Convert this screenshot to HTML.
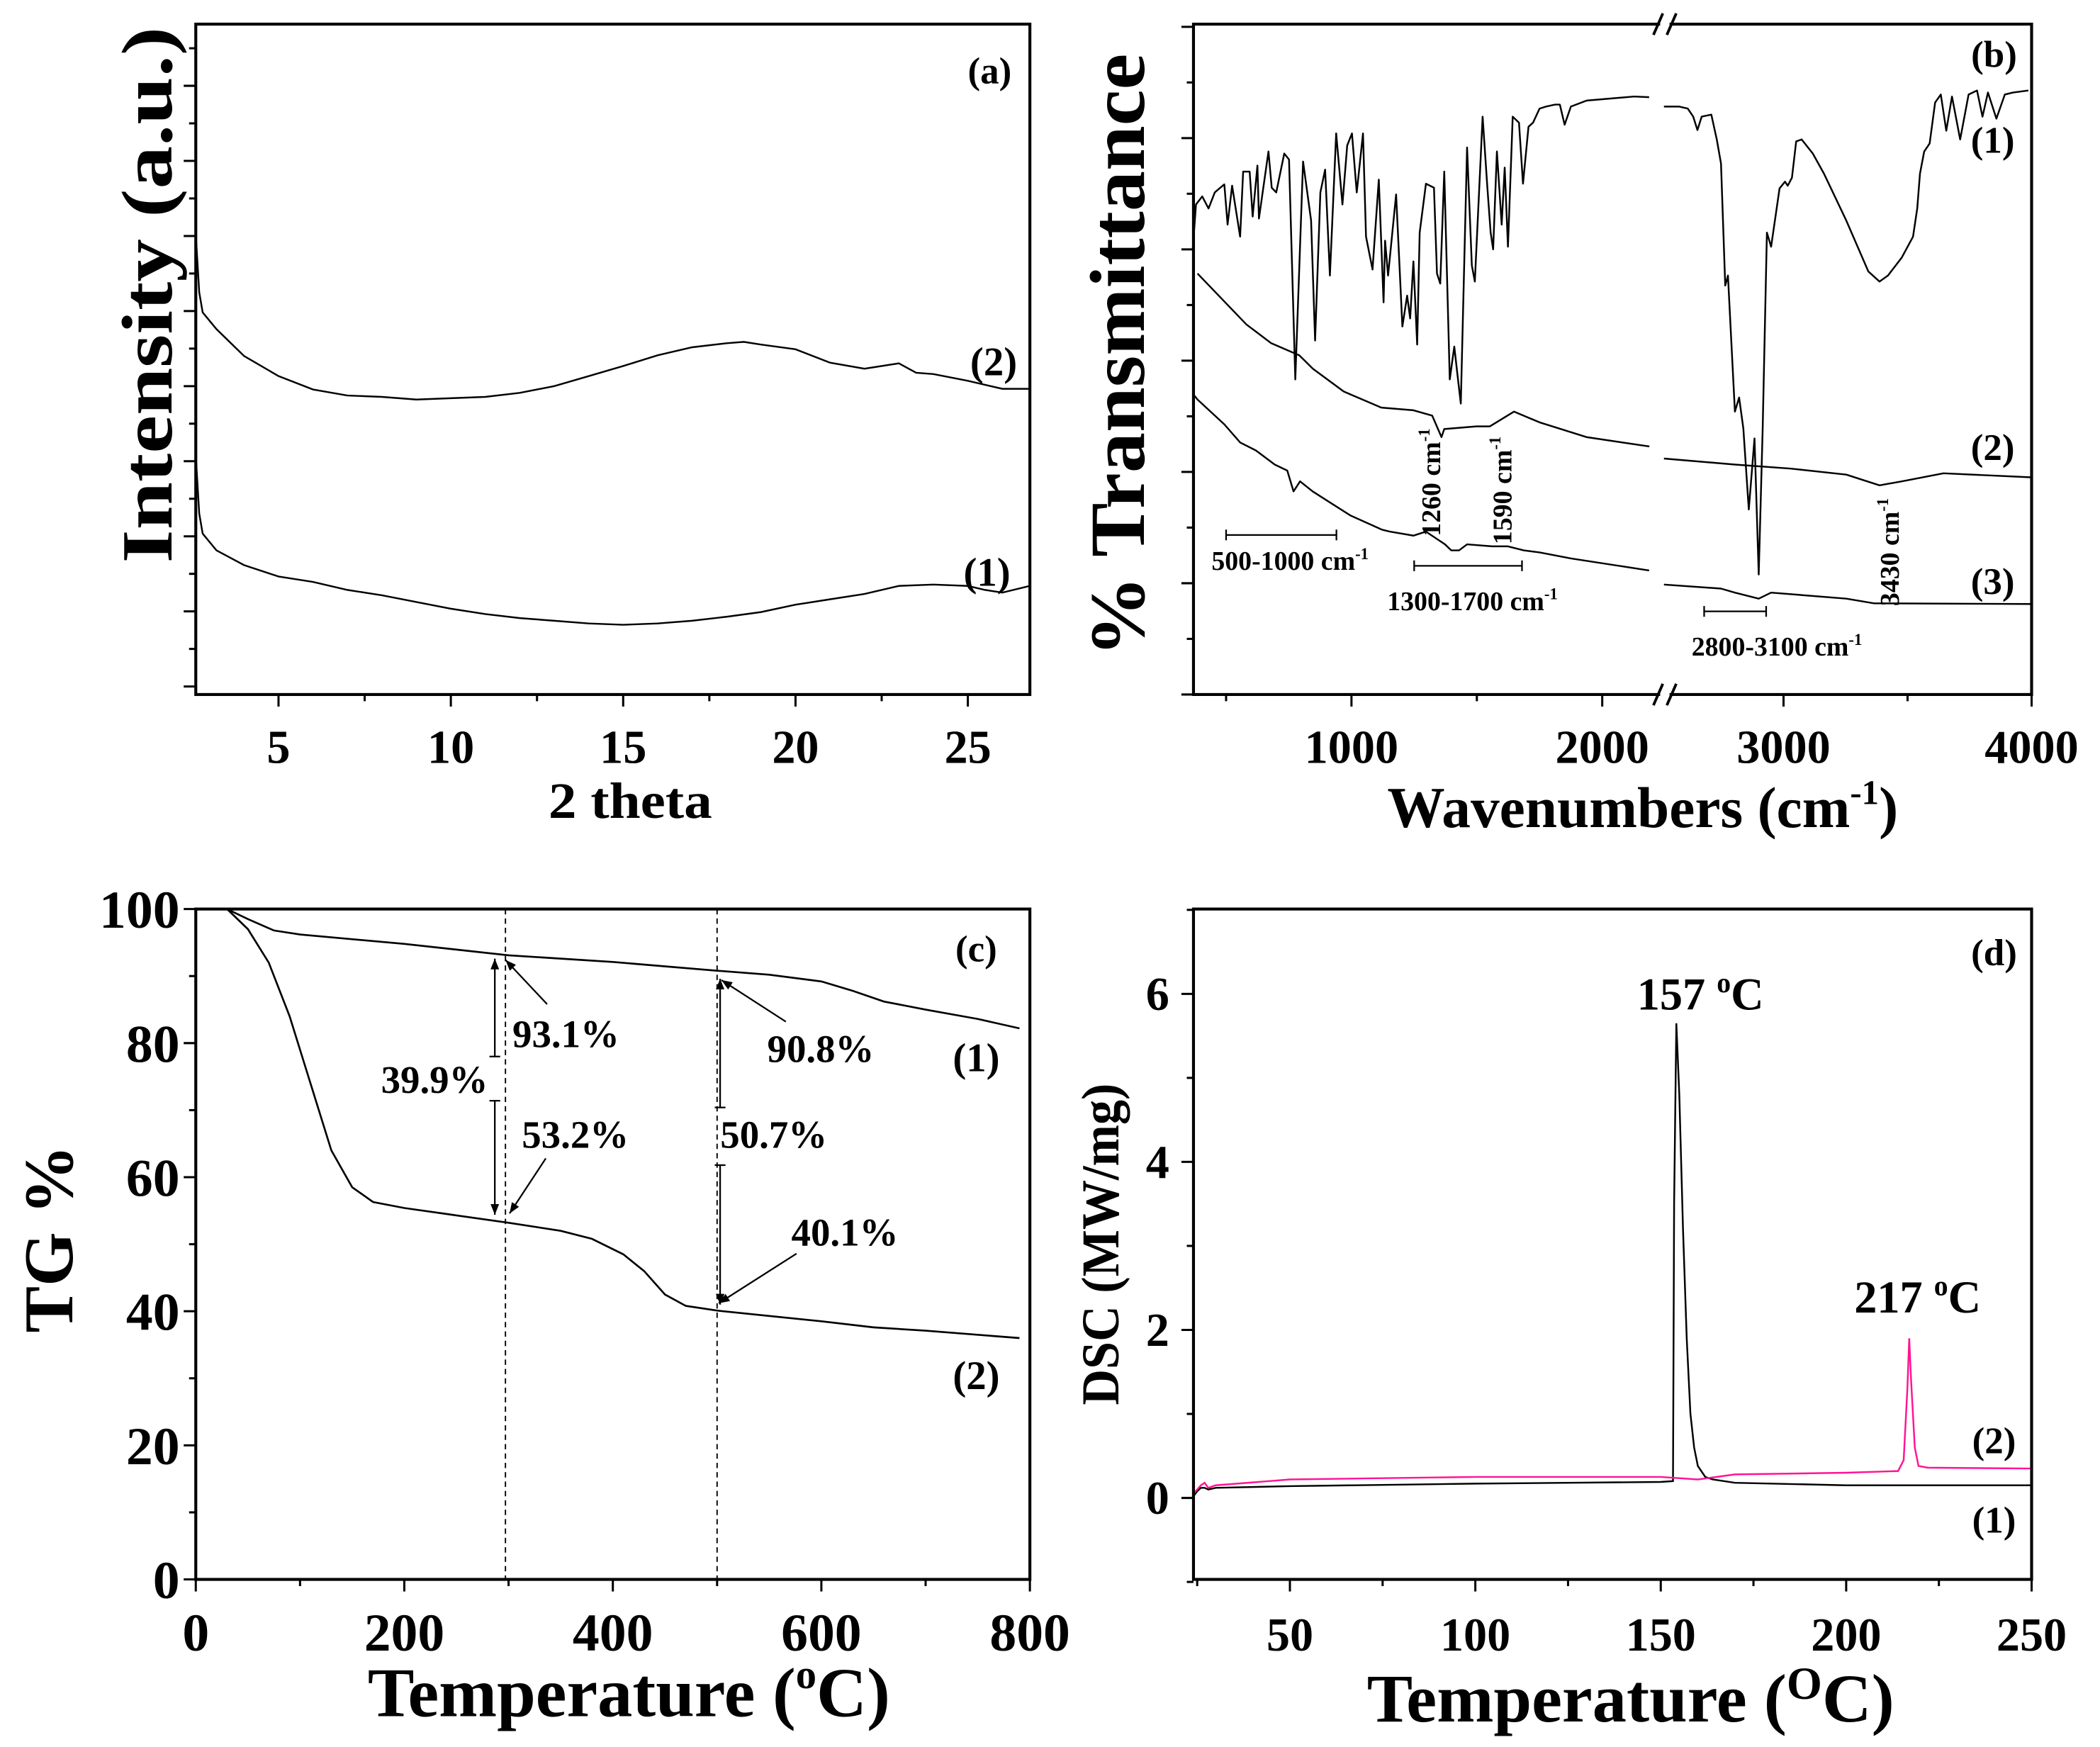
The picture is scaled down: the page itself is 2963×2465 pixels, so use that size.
<!DOCTYPE html>
<html><head><meta charset="utf-8">
<style>
html,body{margin:0;padding:0;background:#fff;}
svg{display:block;}
text{font-family:"Liberation Serif",serif;font-weight:bold;fill:#000;}
</style></head>
<body>
<svg id="fig" xmlns="http://www.w3.org/2000/svg" width="2963" height="2465" viewBox="0 0 1566 1303" preserveAspectRatio="none">
<rect x="0" y="0" width="1566" height="1303" fill="#fff"/>
<g id="layer"></g>
</svg>
<script>
// ---------- Panel (a) XRD data ----------
const xrdX2 = [2.6, 2.7, 2.8, 3.2, 4, 5, 6, 7, 8, 9, 10, 11, 12, 13, 14, 15, 16, 17, 18, 18.5, 19, 20, 21, 22, 23, 23.5, 24, 25, 26, 26.8];
const xrdY2 = [68.6, 60, 57, 54.5, 50.5, 47.5, 45.5, 44.6, 44.4, 44, 44.2, 44.4, 45, 46, 47.5, 49, 50.6, 51.8, 52.4, 52.6, 52.2, 51.5, 49.5, 48.6, 49.4, 48, 47.8, 46.8, 45.6, 45.6];
const xrdX1 = [2.6, 2.7, 2.8, 3.2, 4, 5, 6, 7, 8, 9, 10, 11, 12, 13, 14, 15, 16, 17, 18, 19, 20, 21, 22, 23, 24, 25, 25.5, 26, 26.8];
const xrdY1 = [35.6, 27, 24, 21.5, 19.3, 17.6, 16.8, 15.6, 14.8, 13.8, 12.8, 12, 11.4, 11, 10.6, 10.4, 10.6, 11, 11.6, 12.3, 13.4, 14.2, 15, 16.2, 16.4, 16.2, 15.6, 15.2, 16.2];
const xrdTicks = [5, 10, 15, 20, 25];

// ---------- Panel (b) FTIR data ----------
const irW1 = [367,380,405,430,455,493,506,524,556,568,594,606,625,631,669,682,700,732,751,776,807,839,855,876,895,914,939,964,983,1002,1021,1046,1058,1084,1109,1128,1134,1146,1178,1203,1222,1234,1247,1262,1272,1297,1329,1341,1354,1370,1392,1410,1423,1436,1461,1480,1492,1523,1542,1555,1565,1580,1599,1611,1624,1643,1668,1684,1706,1724,1750,1775,1812,1831,1850,1875,1938,2001,2127,2187,
 2518,2580,2614,2636,2653,2670,2709,2731,2748,2765,2776,2804,2821,2838,2860,2883,2900,2916,2933,2950,2984,3006,3017,3034,3051,3073,3118,3163,3253,3342,3387,3421,3477,3522,3539,3550,3567,3589,3611,3634,3656,3679,3712,3746,3780,3802,3824,3858,3892,3925,3987];
const irT1 = [66.4,73.1,74.3,72.5,74.9,76.1,70.1,75.9,68.3,78.0,78.0,71.3,78.9,71.0,81.0,75.6,74.9,80.7,79.8,47.0,79.5,70.7,52.8,74.9,78.3,62.5,83.7,73.1,81.9,83.7,74.9,83.7,68.3,63.4,76.8,58.5,67.7,62.5,74.6,54.9,59.5,56.1,64.6,52.2,68.9,76.2,75.6,62.8,61.3,78.0,47.0,51.9,47.6,43.4,81.6,64.0,61.6,86.2,75.6,68.9,66.4,81.0,70.1,78.6,66.8,86.2,85.3,76.2,84.7,85.3,87.4,87.7,88.0,88.0,85.0,87.7,88.6,88.8,89.2,89.1,
 87.7,87.7,87.4,86.2,84.2,86.2,86.5,82.8,79.2,61.0,62.5,42.2,44.3,39.7,27.6,38.2,17.9,39.7,68.9,66.8,75.5,76.5,75.9,77.1,82.5,82.8,80.7,77.7,70.7,63.1,61.6,62.5,65.2,68.3,72.5,77.7,81.0,82.2,88.3,89.5,84.1,89.2,82.8,89.5,90.1,86.2,89.8,85.9,89.5,89.8,90.1];
const irW2 = [386,581,680,792,846,969,1119,1247,1322,1359,1370,1498,1552,1648,1750,1937,2188, 2518,2804,3029,3253,3387,3477,3645,3998];
const irT2 = [62.8,55.2,52.4,50.6,48.6,45.2,42.8,42.4,41.6,38.4,39.6,40.0,40.0,42.2,40.6,38.4,37.0, 35.2,34.3,33.7,32.8,31.2,31.8,33.0,32.4];
const irW3 = [367,386,493,556,619,694,744,769,795,845,908,996,1121,1153,1247,1297,1373,1398,1429,1461,1561,1624,1687,1750,1875,2187, 2518,2748,2804,2900,2950,3253,3365,3998];
const irT3 = [44.9,44.0,40.3,37.6,36.4,34.3,33.4,30.3,31.8,30.3,28.8,26.7,24.6,24.3,23.7,24.3,22.4,21.5,21.5,22.4,22.1,22.1,21.5,21.2,20.3,18.5, 16.4,15.8,15.2,14.3,15.2,14.3,13.6,13.5];
const irTicks = [1000, 2000, 3000, 4000];

// ---------- Panel (c) TG data ----------
const tgT1 = [30,50,75,100,200,300,400,500,550,600,630,660,700,750,790];
const tgW1 = [100,98.5,96.8,96.2,94.8,93.1,92.1,90.8,90.2,89.2,87.8,86.2,85.0,83.6,82.2];
const tgT2 = [30,50,70,90,110,130,150,170,200,250,300,350,380,410,430,450,470,500,550,600,650,700,790];
const tgW2 = [100,97,92,84,74,64,58.5,56.3,55.4,54.3,53.2,52,50.8,48.5,46,42.5,40.8,40.1,39.3,38.5,37.6,37.1,36.0];
const tgXTicks = [0,200,400,600,800];
const tgYTicks = [0,20,40,60,80,100];

// ---------- Panel (d) DSC data ----------
const dscT1 = [24,25,26,27,28,30,50,100,150,153.3,153.6,154.2,155,156,157,158,159,160,162,164,170,200,250];
const dscH1 = [0.02,0.08,0.12,0.12,0.1,0.12,0.14,0.17,0.19,0.2,3.5,5.65,4.8,3.2,1.9,1.0,0.6,0.38,0.25,0.22,0.18,0.15,0.15];
const dscT2 = [24,25,26,27,28,30,50,100,150,160,170,200,214,215.5,216.5,217,217.5,218.5,219.5,222,250];
const dscH2 = [0.05,0.1,0.15,0.18,0.12,0.15,0.22,0.25,0.25,0.22,0.28,0.3,0.32,0.45,1.3,1.9,1.4,0.6,0.38,0.36,0.35];
const dscXTicks = [50,100,150,200,250];
const dscYTicks = [0,2,4,6];

const NS = "http://www.w3.org/2000/svg";
const layer = document.getElementById('layer');
function mk(tag, attrs, parent) {
  const e = document.createElementNS(NS, tag);
  for (const k in attrs) e.setAttribute(k, attrs[k]);
  (parent || layer).appendChild(e);
  return e;
}
function txt(s, x, y, size, anchor, parent, rot, len, adj) {
  const t = mk('text', {x: x, y: y, 'font-size': size, 'text-anchor': anchor || 'middle'}, parent);
  if (rot) t.setAttribute('transform', 'rotate(' + rot + ' ' + x + ' ' + y + ')');
  if (len) { t.setAttribute('textLength', len); t.setAttribute('lengthAdjust', adj || 'spacingAndGlyphs'); }
  t.textContent = s;
  return t;
}
function pathFrom(xs, ys, fx, fy) {
  let d = '';
  for (let i = 0; i < xs.length; i++) d += (i ? 'L' : 'M') + fx(xs[i]).toFixed(2) + ' ' + fy(ys[i]).toFixed(2);
  return d;
}
const TICK = 35;

// ===== Panel (a) =====
const A = {x0: 146, x1: 768, y0: 18, y1: 518};
const ax = v => A.x0 + (v - 2.6) / (26.8 - 2.6) * (A.x1 - A.x0);
const ay = v => A.y1 - v / 100 * (A.y1 - A.y0);
const gA = mk('g', {});


for (let v = 2.5; v <= 26.8; v += 2.5) {
  if (v < 2.6) continue;
  const maj = Math.abs(v % 5) < 0.01;
  const t = mk('line', {x1: ax(v), x2: ax(v), y1: A.y1, y2: A.y1 + (maj ? 9 : 5), stroke: '#000', 'stroke-width': 1.6}, gA);
  
  
}
xrdTicks.forEach(v => {
  const t = txt(String(v), ax(v), 569, TICK, 'middle', gA);
  
  
});
for (let i = 0; i <= 17; i++) {
  const y = A.y1 - 6 - i * 28;
  if (y < A.y0 + 4) break;
  const maj = i % 2 === 0;
  const t = mk('line', {x1: A.x0, x2: A.x0 - (maj ? 9 : 5), y1: y, y2: y, stroke: '#000', 'stroke-width': 1.6}, gA);
  
  
}
const pa2 = mk('path', {d: pathFrom(xrdX2, xrdY2, ax, ay), fill: 'none', stroke: '#000', 'stroke-width': 1.3}, gA);


const pa1 = mk('path', {d: pathFrom(xrdX1, xrdY1, ax, ay), fill: 'none', stroke: '#000', 'stroke-width': 1.3}, gA);


const boxA = mk('rect', {x: A.x0, y: A.y0, width: A.x1 - A.x0, height: A.y1 - A.y0, fill: 'none', stroke: '#000', 'stroke-width': 2.2}, gA);


let t;
t = txt('(a)', 738, 62, 28, 'middle', gA);  
t = txt('(2)', 741, 280, 30, 'middle', gA);  
t = txt('(1)', 736, 437, 30, 'middle', gA);  
t = txt('2 theta', 470, 610, 38, 'middle', gA, 0, 122);  
t = txt('Intensity (a.u.)', 128, 220, 54, 'middle', gA, -90, 400);  

// ===== Panel (b) =====
const B = {x0: 890, x1: 1515, y0: 18, y1: 518, bL: 1238, bR: 1245};
const bx = w => w <= 2300 ? B.x0 + (w - 370) * 0.187 : 1330 + (w - 3000) * 0.185;
const by = v => B.y1 - v / 100 * (B.y1 - B.y0);
const gB = mk('g', {});


[500, 1000, 1500, 2000, 3000, 3500, 4000].forEach(w => {
  const maj = w % 1000 === 0;
  const l = mk('line', {x1: bx(w), x2: bx(w), y1: B.y1, y2: B.y1 + (maj ? 9 : 5), stroke: '#000', 'stroke-width': 1.6}, gB);
  
  
});
irTicks.forEach(w => {
  const l = txt(String(w), bx(w), 569, TICK, 'middle', gB);
  
  
});
for (let i = 0; i <= 12; i++) {
  const y = B.y1 - i * 41.5;
  const maj = i % 2 === 0;
  const l = mk('line', {x1: B.x0, x2: B.x0 - (maj ? 9 : 5), y1: y, y2: y, stroke: '#000', 'stroke-width': 1.6}, gB);
  
  
}
function splitPath(ws, ts) {
  let d = '', prevRight = null;
  for (let i = 0; i < ws.length; i++) {
    const right = ws[i] > 2300;
    d += ((i === 0 || right !== prevRight) ? 'M' : 'L') + bx(ws[i]).toFixed(2) + ' ' + by(ts[i]).toFixed(2);
    prevRight = right;
  }
  return d;
}
[[irW1, irT1, 'ftir-curve-1'], [irW2, irT2, 'ftir-curve-2'], [irW3, irT3, 'ftir-curve-3']].forEach(s => {
  const p = mk('path', {d: splitPath(s[0], s[1]), fill: 'none', stroke: '#000', 'stroke-width': 1.3, 'stroke-linejoin': 'round'}, gB);
  
  
});
const fr = mk('path', {d: 'M' + B.bL + ' ' + B.y0 + 'L' + B.x0 + ' ' + B.y0 + 'L' + B.x0 + ' ' + B.y1 + 'L' + B.bL + ' ' + B.y1 +
  'M' + B.bR + ' ' + B.y0 + 'L' + B.x1 + ' ' + B.y0 + 'L' + B.x1 + ' ' + B.y1 + 'L' + B.bR + ' ' + B.y1,
  fill: 'none', stroke: '#000', 'stroke-width': 2.2}, gB);


[B.y0, B.y1].forEach(y => {
  const br = mk('path', {d: 'M' + (B.bL - 5) + ' ' + (y + 8) + 'L' + (B.bL + 2) + ' ' + (y - 8) + 'M' + (B.bR - 2) + ' ' + (y + 8) + 'L' + (B.bR + 5) + ' ' + (y - 8), stroke: '#000', 'stroke-width': 2, fill: 'none'}, gB);
  
  
});
function rangeBar(xa, xb, y, name) {
  const p = mk('path', {d: 'M' + xa + ' ' + y + 'L' + xb + ' ' + y + 'M' + xa + ' ' + (y - 4) + 'L' + xa + ' ' + (y + 4) + 'M' + xb + ' ' + (y - 4) + 'L' + xb + ' ' + (y + 4), stroke: '#000', 'stroke-width': 1.2, fill: 'none'}, gB);
  
  
}
rangeBar(bx(500), bx(940), 399, 'range-bar-500-1000');
rangeBar(bx(1250), bx(1680), 422, 'range-bar-1300-1700');
rangeBar(bx(2680), bx(2930), 456, 'range-bar-2800-3100');
function supText(main, sup, x, y, size, anchor, rot, name, parent) {
  const e = mk('text', {x: x, y: y, 'font-size': size, 'text-anchor': anchor}, parent || gB);
  if (rot) e.setAttribute('transform', 'rotate(' + rot + ' ' + x + ' ' + y + ')');
  e.textContent = main;
  const s = mk('tspan', {'font-size': size * 0.6, dy: -size * 0.4}, e);
  s.textContent = sup;
  
  
  return e;
}
supText('500-1000 cm', '-1', 962, 425, 20, 'middle', 0, 'annotation-500-1000');
supText('1300-1700 cm', '-1', 1098, 455, 20, 'middle', 0, 'annotation-1300-1700');
supText('2800-3100 cm', '-1', 1325, 489, 20, 'middle', 0, 'annotation-2800-3100');
supText('1260 cm', '-1', 1074, 400, 20, 'start', -90, 'annotation-1260');
supText('1590 cm', '-1', 1127, 406, 20, 'start', -90, 'annotation-1590');
supText('3430 cm', '-1', 1416, 452, 20, 'start', -90, 'annotation-3430');
t = txt('(b)', 1487, 50, 28, 'middle', gB);  
t = txt('(1)', 1486, 114, 28, 'middle', gB);  
t = txt('(2)', 1486, 343, 28, 'middle', gB);  
t = txt('(3)', 1486, 443, 28, 'middle', gB);  
t = txt('% Transmittance', 853, 265, 58, 'middle', gB, -90, 450);  
t = supText('Wavenumbers (cm', '-1', 1225, 617, 43, 'middle', 0, 'x-axis-title');
const close = mk('tspan', {dy: 17}, t); close.textContent = ')';

// ===== Panel (c) =====
const C = {x0: 146, x1: 768, y0: 678, y1: 1178};
const cx = v => C.x0 + v / 800 * (C.x1 - C.x0);
const cy = v => C.y1 - v / 100 * (C.y1 - C.y0);
const gC = mk('g', {});


for (let v = 0; v <= 800; v += 100) {
  const l = mk('line', {x1: cx(v), x2: cx(v), y1: C.y1, y2: C.y1 + (v % 200 === 0 ? 9 : 5), stroke: '#000', 'stroke-width': 1.6}, gC);
  
  
}
for (let v = 0; v <= 100; v += 10) {
  const l = mk('line', {x1: C.x0, x2: C.x0 - (v % 20 === 0 ? 9 : 5), y1: cy(v), y2: cy(v), stroke: '#000', 'stroke-width': 1.6}, gC);
  
  
}
tgXTicks.forEach(v => { const l = txt(String(v), cx(v), 1231, 40, 'middle', gC);   });
tgYTicks.forEach(v => { const l = txt(String(v), 134, cy(v) + 14, 40, 'end', gC);   });
[297, 500].forEach(v => {
  const l = mk('line', {x1: cx(v), x2: cx(v), y1: C.y0, y2: C.y1, stroke: '#000', 'stroke-width': 1, 'stroke-dasharray': '4 3'}, gC);
  
  
});
const pc1 = mk('path', {d: pathFrom(tgT1, tgW1, cx, cy), fill: 'none', stroke: '#000', 'stroke-width': 1.4}, gC);


const pc2 = mk('path', {d: pathFrom(tgT2, tgW2, cx, cy), fill: 'none', stroke: '#000', 'stroke-width': 1.4}, gC);


const defs = mk('defs', {}, document.getElementById('fig'));
const mkr = mk('marker', {id: 'ah', viewBox: '0 0 10 10', refX: 10, refY: 5, markerWidth: 8, markerHeight: 8, orient: 'auto-start-reverse', markerUnits: 'userSpaceOnUse'}, defs);
mk('path', {d: 'M0 1L10 5L0 9Z', fill: '#000'}, mkr);
function arrow(x1, y1, x2, y2, name) {
  const l = mk('line', {x1: x1, y1: y1, x2: x2, y2: y2, stroke: '#000', 'stroke-width': 1.2, 'marker-end': 'url(#ah)'}, gC);
  
  
  return l;
}
arrow(369, 788, 369, 715, 'arrow-39-9-up');
arrow(369, 821, 369, 906, 'arrow-39-9-down');
const caps = mk('path', {d: 'M365 788L373 788M365 821L373 821M533 826L541 826M533 869L541 869', stroke: '#000', 'stroke-width': 1.2}, gC);


arrow(537, 826, 537, 730, 'arrow-50-7-up');
arrow(537, 869, 537, 973, 'arrow-50-7-down');
arrow(408, 749, 377, 716, 'arrow-93-1');
arrow(407, 864, 380, 905, 'arrow-53-2');
arrow(586, 762, 538, 731, 'arrow-90-8');
arrow(594, 935, 536, 972, 'arrow-40-1');
[['39.9%', 324, 815, 'label-39-9'], ['93.1%', 422, 781, 'label-93-1'], ['53.2%', 429, 856, 'label-53-2'], ['90.8%', 612, 792, 'label-90-8'], ['50.7%', 577, 856, 'label-50-7'], ['40.1%', 630, 929, 'label-40-1']].forEach(a => {
  const l = txt(a[0], a[1], a[2], 29, 'middle', gC);
  
  
});
t = txt('(c)', 728, 717, 28, 'middle', gC);  
t = txt('(1)', 728, 799, 30, 'middle', gC);  
t = txt('(2)', 728, 1036, 30, 'middle', gC);  
t = txt('TG %', 54, 924, 52, 'middle', gC, -90);  
t = txt('Temperature (', 469, 1280, 52, 'middle', gC);  
let sp = mk('tspan', {'font-size': 31, dy: -21}, t); sp.textContent = 'o';
sp = mk('tspan', {dy: 21}, t); sp.textContent = 'C)';

// ===== Panel (d) =====
const D = {x0: 890, x1: 1515, y0: 678, y1: 1178};
const dx = v => D.x0 + (v - 24) / (250 - 24) * (D.x1 - D.x0);
const dy = v => D.y1 - (v + 0.97) / 7.98 * (D.y1 - D.y0);
const gD = mk('g', {});


for (let v = 25; v <= 250; v += 25) {
  const l = mk('line', {x1: dx(v), x2: dx(v), y1: D.y1, y2: D.y1 + (v % 50 === 0 ? 9 : 5), stroke: '#000', 'stroke-width': 1.6}, gD);
  
  
}
for (let v = -1; v <= 7; v += 1) {
  const l = mk('line', {x1: D.x0, x2: D.x0 - (v % 2 === 0 ? 9 : 5), y1: dy(v), y2: dy(v), stroke: '#000', 'stroke-width': 1.6}, gD);
  
  
}
dscXTicks.forEach(v => { const l = txt(String(v), dx(v), 1231, TICK, 'middle', gD);   });
dscYTicks.forEach(v => { const l = txt(String(v), 872, dy(v) + 12, TICK, 'end', gD);   });
const pd1 = mk('path', {d: pathFrom(dscT1, dscH1, dx, dy), fill: 'none', stroke: '#000', 'stroke-width': 1.3}, gD);


const pd2 = mk('path', {d: pathFrom(dscT2, dscH2, dx, dy), fill: 'none', stroke: '#ff1493', 'stroke-width': 1.3}, gD);


const boxD = mk('rect', {x: D.x0, y: D.y0, width: D.x1 - D.x0, height: D.y1 - D.y0, fill: 'none', stroke: '#000', 'stroke-width': 2.2}, gD);


function degLabel(num, x, y, name) {
  const e = txt(num + ' ', x, y, 34, 'middle', gD);
  const s1 = mk('tspan', {'font-size': 21, dy: -13}, e); s1.textContent = 'o';
  const s2 = mk('tspan', {dy: 13}, e); s2.textContent = 'C';
  
  
}
degLabel('157', 1268, 753, 'peak-label-157');
degLabel('217', 1430, 979, 'peak-label-217');
t = txt('(d)', 1487, 720, 28, 'middle', gD);  
t = txt('(2)', 1487, 1084, 28, 'middle', gD);  
t = txt('(1)', 1487, 1143, 28, 'middle', gD);  
t = txt('DSC (MW/mg)', 834, 928, 40, 'middle', gD, -90, 240);  
t = txt('Temperature (', 1216, 1284, 51, 'middle', gD);  
sp = mk('tspan', {'font-size': 34, dy: -17}, t); sp.textContent = 'O';
sp = mk('tspan', {dy: 17}, t); sp.textContent = 'C)';

const boxC = mk('rect', {x: C.x0, y: C.y0, width: C.x1 - C.x0, height: C.y1 - C.y0, fill: 'none', stroke: '#000', 'stroke-width': 2.2}, gC);


</script>
</body></html>
